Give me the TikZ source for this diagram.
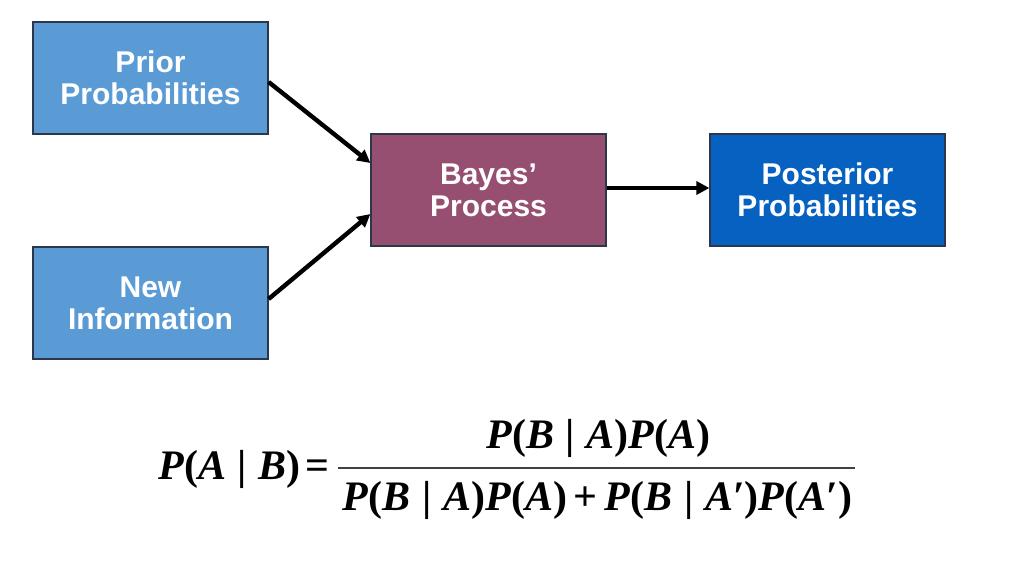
\documentclass[tikz,border=0pt]{standalone}
\usepackage{fontspec}
\setmainfont{Liberation Serif}
\newfontfamily\boxfont{Liberation Sans}
\newfontfamily\formfont{Liberation Serif}
\usetikzlibrary{arrows.meta}
\definecolor{lightblue}{RGB}{91,155,213}
\definecolor{bayescol}{RGB}{150,79,112}
\definecolor{postcol}{RGB}{6,97,193}
\definecolor{edgecol}{RGB}{45,55,75}
\newcommand{\up}[1]{\textup{#1}}
\newcommand{\condbar}{\hspace{0.28em}\up{|}\hspace{0.28em}}
\newcommand{\prm}{\up{′}}
\tikzset{
  procbox/.style={draw=edgecol, line width=1.2pt, minimum width=235pt, minimum height=112pt,
    inner sep=0pt, align=center, text=white, font=\boxfont\bfseries\fontsize{30}{32}\selectfont},
  flow/.style={line width=4.4pt, -{Triangle[length=13pt,width=13pt]}},
  formula/.style={inner sep=0pt, font=\formfont\bfseries\itshape\fontsize{42}{44}\selectfont}
}
\begin{document}
\begin{tikzpicture}[x=1pt,y=-1pt]
\useasboundingbox (0,0) rectangle (1024,584);
\fill[white] (0,0) rectangle (1024,584);
\node[procbox, fill=lightblue] (prior) at (150.5,78) {Prior\\Probabilities};
\node[procbox, fill=lightblue] (new) at (150.5,303) {New\\Information};
\node[procbox, fill=bayescol] (bayes) at (488.5,190) {Bayes’\\Process};
\node[procbox, fill=postcol] (post) at (827.5,190) {Posterior\\Probabilities};
\draw[flow] ([yshift=-4pt]prior.east) -- ([yshift=27pt]bayes.west);
\draw[flow] ([yshift=4pt]new.east) -- ([yshift=-24pt]bayes.west);
\draw[flow] ([yshift=2pt]bayes.east) -- ([yshift=2pt]post.west);
\node[formula, anchor=base west] (lhs) at (158,479) {P\up{(}A\condbar B\up{)}\hspace{0.1em}\up{=}};
\node[formula, anchor=base] (num) at (598.5,448) {P\up{(}B\condbar A\up{)}P\up{(}A\up{)}};
\node[formula, anchor=base] (den) at (597.5,510) {P\up{(}B\condbar A\up{)}P\up{(}A\up{)}\hspace{0.16em}\up{+}\hspace{0.16em}P\up{(}B\condbar A\prm\up{)}P\up{(}A\prm\up{)}};
\coordinate (barL) at (338,468);
\coordinate (barR) at (855,468);
\draw[line width=1.3pt, black!75] (barL) -- (barR);
\end{tikzpicture}
\end{document}
